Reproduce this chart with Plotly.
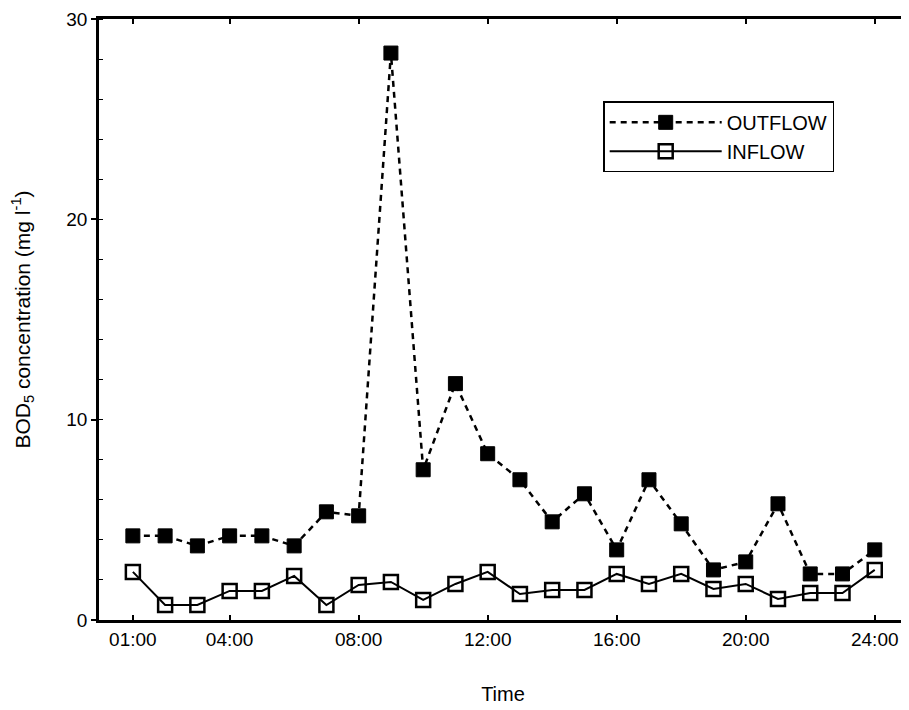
import plotly.graph_objects as go

hours = list(range(1, 25))
outflow = [4.2, 4.2, 3.7, 4.2, 4.2, 3.7, 5.4, 5.2, 28.3, 7.5, 11.8, 8.3,
           7.0, 4.9, 6.3, 3.5, 7.0, 4.8, 2.5, 2.9, 5.8, 2.3, 2.3, 3.5]
inflow = [2.4, 0.75, 0.75, 1.45, 1.45, 2.2, 0.75, 1.75, 1.9, 1.0, 1.8, 2.4,
          1.3, 1.5, 1.5, 2.3, 1.8, 2.3, 1.55, 1.8, 1.05, 1.35, 1.35, 2.5]
tick_hours = [1, 4, 8, 12, 16, 20, 24]
tick_labels = ["01:00", "04:00", "08:00", "12:00", "16:00", "20:00", "24:00"]
y_ticks = [0, 10, 20, 30]

FONT = "Liberation Sans, Arial, sans-serif"

fig = go.Figure()
fig.add_trace(go.Scatter(
    x=hours, y=outflow, name="OUTFLOW", mode="lines+markers",
    line=dict(color="black", width=2.5, dash="6px,5px"),
    marker=dict(symbol="square", size=14, color="black",
                line=dict(color="black", width=1)),
))
fig.add_trace(go.Scatter(
    x=hours, y=inflow, name="INFLOW", mode="lines+markers",
    line=dict(color="black", width=2),
    marker=dict(symbol="square-open", size=14, color="black",
                line=dict(color="black", width=2.5)),
))

# page body has an 8px default margin, so the figure is sized to fit
fig.update_layout(
    width=901, height=702,
    margin=dict(l=91, r=2, t=11, b=90),
    paper_bgcolor="white", plot_bgcolor="white",
    font=dict(family=FONT, size=20, color="black"),
    showlegend=True,
    legend=dict(
        x=0.624, y=0.863, xanchor="left", yanchor="top",
        bordercolor="black", borderwidth=1.5, bgcolor="white",
        font=dict(family=FONT, size=20, color="black"),
        itemwidth=112, tracegroupgap=0,
        traceorder="normal",
    ),
    xaxis=dict(
        range=[-0.05, 25.0], tickmode="array", tickvals=tick_hours,
        ticktext=tick_labels, showgrid=False, zeroline=False,
        showline=True, linecolor="black", linewidth=2.5, mirror="ticks",
        ticks="inside", ticklen=5, tickcolor="black", tickwidth=1.5,
        tickfont=dict(family=FONT, size=19), automargin=False,
        ticklabeloverflow="allow",
        title=dict(text="Time", font=dict(family=FONT, size=20), standoff=39),
    ),
    yaxis=dict(
        range=[0, 30], tickmode="array", tickvals=y_ticks,
        showgrid=False, zeroline=False,
        showline=True, linecolor="black", linewidth=2.5, mirror="ticks",
        ticks="outside", ticklen=5, tickcolor="black", tickwidth=1.5,
        minor=dict(dtick=2, ticks="inside", ticklen=4, tickcolor="black", tickwidth=1),
        tickfont=dict(family=FONT, size=19), automargin=False,
        ticklabeloverflow="allow",
        title=dict(text="BOD<sub>5</sub> concentration (mg l<sup>-1</sup>)",
                   font=dict(family=FONT, size=21), standoff=42),
    ),
)

fig.write_html("out.html")
